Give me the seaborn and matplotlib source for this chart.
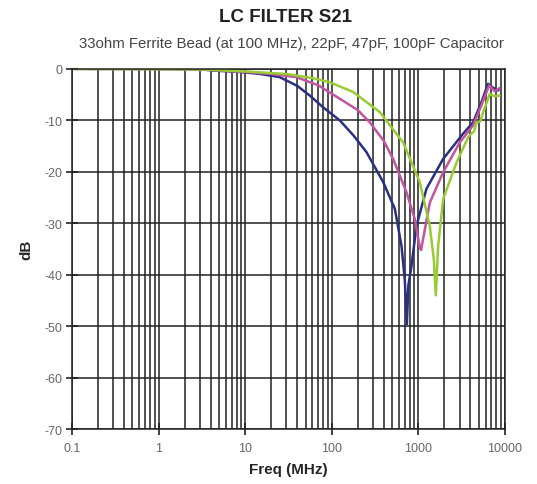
import numpy as np
import pandas as pd
import matplotlib
matplotlib.use("Agg")
import matplotlib.pyplot as plt
import matplotlib.ticker as mticker
import seaborn as sns

# S21 readings (MHz, dB) for the three capacitor values
freq_100pf = [0.1, 1, 3, 5, 7, 10, 15, 25, 40, 56, 80, 124, 180, 253, 394, 537,
              641, 700, 740, 770, 836, 955, 1245, 1940, 3300, 4300, 5370, 6410,
              7200, 8370, 8700]
db_100pf = [0, 0, -0.1, -0.4, -0.5, -0.7, -1.0, -1.6, -3.3, -5.2, -7.5, -10, -13,
            -16.2, -22, -27.2, -34.4, -41, -49.6, -42, -38.3, -30.5, -23.3, -17.5,
            -12.6, -10.4, -6.5, -2.9, -3.6, -4.2, -3.8]

freq_47pf = [0.1, 3, 10, 20, 39, 70, 124, 200, 276, 400, 513, 733, 914, 1000,
             1042, 1080, 1140, 1360, 1940, 3020, 4300, 5370, 6600, 7600, 8700]
db_47pf = [0, -0.1, -0.6, -1.0, -1.6, -3.2, -5.8, -8, -10.4, -14, -17.5, -24,
           -29.2, -33, -34.7, -35.2, -33, -26, -20.1, -14.3, -11, -7.1, -3.2,
           -4.3, -3.8]

freq_22pf = [0.1, 3, 10, 30, 60, 95, 177, 360, 670, 1042, 1360, 1514, 1597, 1700,
             1940, 2770, 3770, 4100, 4400, 4710, 5200, 5630, 6200, 6700, 7600, 8700]
db_22pf = [0, -0.1, -0.5, -1.0, -1.8, -2.6, -4.5, -8.4, -14.3, -22, -30.5, -37,
           -44, -34.4, -25.3, -18.2, -13.3, -12.6, -12.2, -10.4, -10.2, -8.4,
           -6.5, -4.9, -5.3, -5.2]

df = pd.concat([
    pd.DataFrame({"freq": freq_100pf, "db": db_100pf, "cap": "100pF"}),
    pd.DataFrame({"freq": freq_47pf, "db": db_47pf, "cap": "47pF"}),
    pd.DataFrame({"freq": freq_22pf, "db": db_22pf, "cap": "22pF"}),
])

sns.set_style("white")
plt.rcParams["font.family"] = ["Liberation Sans", "DejaVu Sans"]
plt.rcParams["axes.unicode_minus"] = False

fig = plt.figure(figsize=(5.37, 4.85), dpi=100)
ax = fig.add_axes([0.134, 0.113, 0.806, 0.743])

palette = {"100pF": "#2b3080", "47pF": "#c254a0", "22pF": "#99cc33"}
sns.lineplot(data=df, x="freq", y="db", hue="cap", palette=palette,
             linewidth=1.8, sort=False, estimator=None, legend=False, ax=ax)

ax.set_xscale("log")
ax.set_xlim(0.1, 10000)
ax.set_ylim(-70, 0)
ax.xaxis.set_major_locator(mticker.LogLocator(base=10, numticks=10))
ax.xaxis.set_minor_locator(mticker.LogLocator(base=10, subs=np.arange(2, 10), numticks=20))
ax.xaxis.set_minor_formatter(mticker.NullFormatter())
ax.xaxis.set_major_formatter(mticker.FuncFormatter(lambda v, p: f"{v:g}"))
ax.set_yticks(np.arange(-70, 1, 10))

ax.grid(True, which="both", axis="x", color="#222222", linewidth=1.1)
ax.grid(True, which="major", axis="y", color="#222222", linewidth=1.1)
for s in ax.spines.values():
    s.set_color("#222222")
    s.set_linewidth(1.1)

# seaborn "white" hides ticks; turn the crossing major ticks back on
ax.tick_params(axis="both", which="major", bottom=True, left=True,
               direction="inout", length=8, width=1.2,
               colors="#222222", labelcolor="#666666", labelsize=9)
ax.tick_params(axis="x", which="major", pad=5)
ax.tick_params(axis="y", which="major", pad=3)
ax.tick_params(axis="x", which="minor", length=0)

ax.set_xlabel("Freq (MHz)", fontsize=11, fontweight="bold", labelpad=6)
ax.set_ylabel("dB", fontsize=11, fontweight="bold", labelpad=8)

fig.text(0.532, 0.964, "LC FILTER S21", ha="center", va="center",
         fontsize=13.5, fontweight="bold", color="#222222")
fig.text(0.542, 0.909, "33ohm Ferrite Bead (at 100 MHz), 22pF, 47pF, 100pF Capacitor",
         ha="center", va="center", fontsize=10.8, color="#444444")

fig.savefig("out.png", dpi=100)
